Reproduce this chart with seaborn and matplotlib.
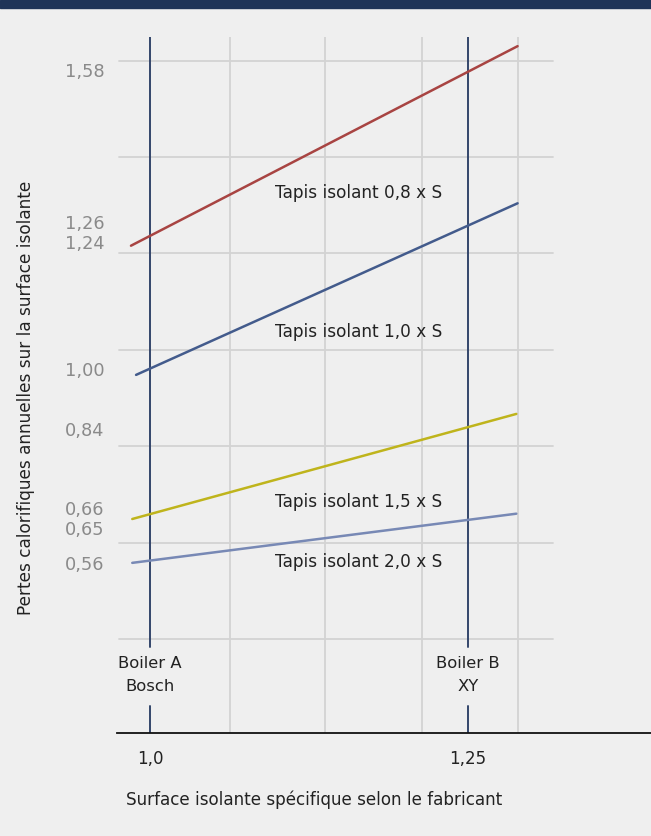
import numpy as np
import pandas as pd
import matplotlib
matplotlib.use("Agg")
import matplotlib.pyplot as plt
import seaborn as sns

# schematic chart: y is in "grid steps" (gridline 0 at bottom, 6 at top)
series = ["Tapis isolant 0,8 x S", "Tapis isolant 1,0 x S",
          "Tapis isolant 1,5 x S", "Tapis isolant 2,0 x S"]
x_start = [0.985, 0.989, 0.986, 0.986]
x_end = [1.289, 1.289, 1.288, 1.288]
y_start = [4.08, 2.74, 1.245, 0.79]
y_end = [6.15, 4.52, 2.335, 1.30]
colors = ["#a84442", "#435b8c", "#bfb41c", "#7889b5"]

label_x = [1.098, 1.098, 1.098, 1.098]
label_y = [4.63, 3.18, 1.42, 0.80]

ytick_pos = [5.90, 4.33, 4.12, 2.80, 2.18, 1.36, 1.15, 0.79]
ytick_labels = ["1,58", "1,26", "1,24", "1,00", "0,84", "0,66", "0,65", "0,56"]

xgrid_light = [1.0629, 1.1376, 1.2138, 1.2893]
boilers = [1.0, 1.25]
boiler_labels = ["Boiler A\nBosch", "Boiler B\nXY"]
xtick_labels = ["1,0", "1,25"]

rows = []
for name, xs, xe, ys, ye in zip(series, x_start, x_end, y_start, y_end):
    rows.append({"serie": name, "x": xs, "y": ys})
    rows.append({"serie": name, "x": xe, "y": ye})
df = pd.DataFrame(rows)

sns.set_theme(style="white")
plt.rcParams['font.family'] = ['DejaVu Sans']

bg = "#efefef"
fig = plt.figure(figsize=(6.51, 8.36), dpi=100, facecolor=bg)
W, H = 651, 836
ax = fig.add_axes([117 / W, (836 - 733) / H, (651 - 117) / W, (733 - 37) / H])
ax.set_facecolor(bg)

# top band
fig.patches.append(plt.Rectangle((0, 1 - 8 / H), 1, 8 / H, transform=fig.transFigure,
                                 color="#1f3458", zorder=0))

ax.set_xlim(0.974, 1.3939)
ax.set_ylim(-0.975, 6.245)

grid_c = "#d3d3d3"
for g in range(7):
    ax.plot([0.9755, 1.3168], [g, g], color=grid_c, lw=1.3, zorder=1)
for gx in xgrid_light:
    ax.axvline(gx, color=grid_c, lw=1.3, zorder=1)

# dark boiler lines with gap for the label
for bx, bl in zip(boilers, boiler_labels):
    ax.plot([bx, bx], [-0.08, 6.245], color="#33466b", lw=1.4, zorder=2)
    ax.plot([bx, bx], [-0.7, -0.975], color="#33466b", lw=1.4, zorder=2)
    ax.text(bx, -0.37, bl, ha="center", va="center", fontsize=11.8,
            color="#222222", linespacing=1.65)

sns.lineplot(data=df, x="x", y="y", hue="serie", palette=colors, lw=1.8,
             legend=False, ax=ax, zorder=3)

for name, lx, ly in zip(series, label_x, label_y):
    ax.text(lx, ly, name, ha="left", va="center", fontsize=12.2, color="#222222")

ax.set_yticks(ytick_pos, ytick_labels)
ax.set_xticks(boilers, xtick_labels)
ax.tick_params(axis="y", length=0, pad=9, labelsize=12.8, labelcolor="#8a8a8a")
ax.tick_params(axis="x", length=0, pad=12, labelsize=12, labelcolor="#222222")

for s in ["top", "right", "left"]:
    ax.spines[s].set_visible(False)
ax.spines["bottom"].set_color("#111111")
ax.spines["bottom"].set_linewidth(1.3)

ax.set_xlabel("")
ax.set_ylabel("")
fig.text(126 / W, 1 - 800 / H, "Surface isolante spécifique selon le fabricant",
         ha="left", va="center", fontsize=12.1, color="#222222")
fig.text(26 / W, 1 - 398 / H, "Pertes calorifiques annuelles sur la surface isolante",
         ha="center", va="center", rotation=90, fontsize=12.2, color="#222222")

fig.savefig("out.png", dpi=100, facecolor=bg)
